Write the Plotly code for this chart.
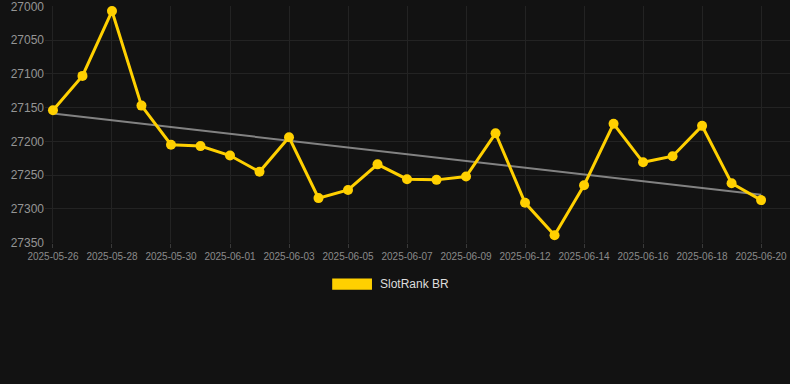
import numpy as np
import plotly.graph_objects as go

dates = ["2025-05-26", "2025-05-27", "2025-05-28", "2025-05-29", "2025-05-30",
         "2025-05-31", "2025-06-01", "2025-06-02", "2025-06-03", "2025-06-04",
         "2025-06-05", "2025-06-06", "2025-06-07", "2025-06-08", "2025-06-09",
         "2025-06-10", "2025-06-12", "2025-06-13", "2025-06-14", "2025-06-15",
         "2025-06-16", "2025-06-17", "2025-06-18", "2025-06-19", "2025-06-20"]
rank = [27154, 27103, 27007, 27147, 27205, 27207, 27221, 27245, 27194, 27284,
        27272, 27234, 27256, 27257, 27252, 27188, 27291, 27339, 27265, 27174,
        27231, 27222, 27177, 27262, 27287]
y_ticks = [27000, 27050, 27100, 27150, 27200, 27250, 27300, 27350]
series_name = "SlotRank BR"

idx = np.arange(len(rank))
slope, intercept = np.polyfit(idx, rank, 1)
trend = slope * idx + intercept

GOLD = "#FFD000"
BG = "#121212"

fig = go.Figure()
fig.add_trace(go.Scatter(
    x=dates, y=trend, mode="lines",
    line=dict(color="rgba(150,150,150,0.85)", width=2),
    hoverinfo="skip", showlegend=False))
fig.add_trace(go.Scatter(
    x=dates, y=rank, mode="lines+markers", name=series_name,
    line=dict(color=GOLD, width=3),
    marker=dict(color=GOLD, size=10),
    showlegend=False, cliponaxis=False))

# legend drawn as a swatch + label below the plot
fig.add_shape(type="rect", xref="paper", yref="paper",
              x0=0.3855, x1=0.4389, y0=-0.150, y1=-0.197,
              fillcolor=GOLD, line=dict(width=0))
fig.add_annotation(text=series_name, xref="paper", yref="paper",
                   x=0.4469, y=-0.173, xanchor="left", yanchor="middle",
                   showarrow=False, font=dict(color="#dddddd", size=12))

fig.update_xaxes(
    type="category", range=[-0.27, 24.98],
    tickmode="linear", tick0=0, dtick=2,
    showgrid=True, gridcolor="#232323", gridwidth=1,
    ticks="outside", ticklen=4, tickcolor="#3a3a3a",
    tickfont=dict(color="#8a8a8a", size=10, family="Arial"),
    showline=False, zeroline=False)
fig.update_yaxes(
    range=[27350.5, 26999.5], tickvals=y_ticks, tickformat="d",
    ticklabeloverflow="allow",
    showgrid=True, gridcolor="#232323", gridwidth=1,
    tickfont=dict(color="#959595", size=12, family="Arial"),
    ticks="", zeroline=False, showline=False)

fig.update_layout(
    width=790, height=384,
    margin=dict(l=45, r=0, t=6, b=141),
    paper_bgcolor=BG, plot_bgcolor=BG,
    font=dict(family="Arial", color="#9a9a9a"),
)

fig.write_html("out.html", config={"displayModeBar": False},
               post_script="document.body.style.margin='0';document.body.style.background='#121212';")
